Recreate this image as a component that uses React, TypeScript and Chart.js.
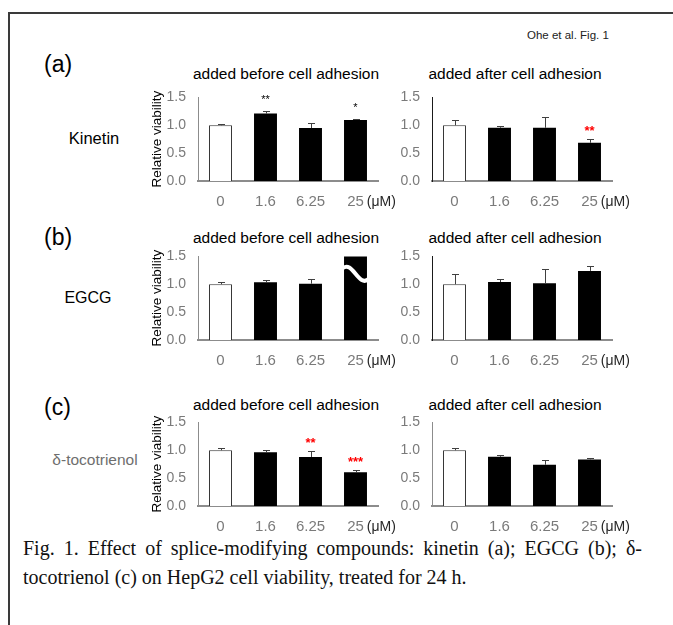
import React, { useEffect, useRef } from 'react';
import { Chart, registerables } from 'chart.js';

Chart.register(...registerables);

const categories = ['0', '1.6', '6.25', '25'];
const yTicks = [0, 0.5, 1.0, 1.5];

const kinetinBefore = [1.0, 1.21, 0.95, 1.095];
const kinetinBeforeErr = [0.03, 0.045, 0.085, 0.025];
const kinetinBeforeSig = ['', '**', '', '*'];

const kinetinAfter = [1.0, 0.955, 0.955, 0.685];
const kinetinAfterErr = [0.09, 0.035, 0.2, 0.06];
const kinetinAfterSig = ['', '', '', '**'];

const egcgBefore = [1.0, 1.035, 1.01, 1.6];
const egcgBeforeErr = [0.035, 0.045, 0.08, 0];
const egcgBeforeSig = ['', '', '', ''];

const egcgAfter = [1.0, 1.04, 1.02, 1.24];
const egcgAfterErr = [0.18, 0.06, 0.255, 0.09];
const egcgAfterSig = ['', '', '', ''];

const tocoBefore = [1.0, 0.966, 0.88, 0.605];
const tocoBeforeErr = [0.04, 0.045, 0.1, 0.04];
const tocoBeforeSig = ['', '', '**', '***'];

const tocoAfter = [1.0, 0.883, 0.74, 0.836];
const tocoAfterErr = [0.035, 0.037, 0.08, 0.017];
const tocoAfterSig = ['', '', '', ''];

const SANS = '"Liberation Sans", Arial, sans-serif';
const SERIF = '"Liberation Serif", "Times New Roman", serif';
const TICK_GRAY = '#7a7a7a';

const CW = 270;
const PAD_TOP = 9.6;
const TOP_OFF = 18; // layout padding + half of the top tick label
const AREA_H = 86;
const Y_W = 58;
const X_H = 30;
const X_PAD = 12;
const CH = TOP_OFF + AREA_H + X_H;

type PanelProps = {
  left: number;
  top: number;
  values: number[];
  errors: number[];
  sig: string[];
  sigColor: string;
  yColor: string;
  yTitle: boolean;
  breakIndex?: number;
  breakValue?: number;
};

function Panel(p: PanelProps) {
  const ref = useRef<HTMLCanvasElement>(null);
  useEffect(() => {
    const annot = {
      id: 'annot',
      afterDatasetsDraw(chart: any) {
        const { ctx, scales } = chart;
        const x = scales.x;
        const y = scales.y;
        ctx.save();
        ctx.strokeStyle = '#404040';
        ctx.lineWidth = 1;
        p.errors.forEach((e, i) => {
          if (!e) return;
          const cx = Math.round(x.getPixelForValue(i)) + 0.5;
          const y0 = y.getPixelForValue(p.values[i]);
          const y1 = Math.round(y.getPixelForValue(p.values[i] + e)) + 0.5;
          ctx.beginPath();
          ctx.moveTo(cx, y0);
          ctx.lineTo(cx, y1);
          ctx.moveTo(cx - 3.5, y1);
          ctx.lineTo(cx + 3.5, y1);
          ctx.stroke();
        });
        if (p.breakIndex !== undefined && p.breakValue !== undefined) {
          const meta = chart.getDatasetMeta(0);
          const bar = meta.data[p.breakIndex];
          const half = bar.width / 2;
          const l = bar.x - half - 2;
          const r = bar.x + half + 2;
          const c = y.getPixelForValue(p.breakValue);
          ctx.strokeStyle = '#ffffff';
          ctx.lineWidth = 4;
          ctx.beginPath();
          ctx.moveTo(l, c - 6);
          ctx.bezierCurveTo(l + (r - l) * 0.4, c - 16, l + (r - l) * 0.6, c + 14, r, c + 4);
          ctx.stroke();
        }
        ctx.textAlign = 'center';
        ctx.textBaseline = 'alphabetic';
        p.sig.forEach((s, i) => {
          if (!s) return;
          const cx = x.getPixelForValue(i);
          const yt = y.getPixelForValue(p.values[i] + p.errors[i]);
          let off = 4;
          if (p.sigColor === '#000000') {
            ctx.font = `11px ${SANS}`;
            off = 8;
          } else {
            ctx.font = `bold 13px ${SANS}`;
          }
          ctx.fillStyle = p.sigColor;
          ctx.fillText(s, cx, yt - off);
        });
        ctx.font = `15px ${SANS}`;
        const w25 = ctx.measureText(categories[3]).width;
        const ux = x.getPixelForValue(3) + w25 / 2 + 3;
        const uy = x.top + X_PAD + 9;
        ctx.textAlign = 'left';
        ctx.textBaseline = 'middle';
        ctx.fillStyle = '#262626';
        ctx.font = `14px ${SANS}`;
        ctx.fillText('(\u03bcM)', ux, uy);
        ctx.restore();
      },
    };
    const chart = new Chart(ref.current!, {
      type: 'bar',
      data: {
        labels: categories,
        datasets: [
          {
            data: p.values,
            backgroundColor: categories.map((_, i) => (i === 0 ? '#ffffff' : '#000000')),
            borderColor: categories.map((_, i) => (i === 0 ? '#333333' : '#000000')),
            borderWidth: categories.map((_, i) => (i === 0 ? 1 : 0)),
            categoryPercentage: 1,
            barPercentage: 0.51,
            clip: 0,
          } as any,
        ],
      },
      options: {
        responsive: false,
        animation: false,
        devicePixelRatio: 1,
        layout: { padding: { top: PAD_TOP, right: 32, left: 0, bottom: 0 } },
        plugins: { legend: { display: false }, tooltip: { enabled: false }, title: { display: false } },
        scales: {
          x: {
            offset: true,
            grid: { display: false, drawTicks: false },
            border: { display: true, color: '#8c8c8c', width: 2 },
            ticks: { color: TICK_GRAY, font: { family: SANS, size: 15 }, padding: X_PAD, maxRotation: 0 },
            afterFit: (s: any) => {
              s.height = X_H;
            },
          },
          y: {
            min: 0,
            max: 1.5,
            afterBuildTicks: (s: any) => {
              s.ticks = yTicks.map((v) => ({ value: v }));
            },
            grid: { display: false, drawTicks: false },
            border: { display: true, color: p.yColor, width: 1 },
            ticks: {
              color: TICK_GRAY,
              font: { family: SANS, size: 14 },
              padding: 12,
              callback: (v: any) => Number(v).toFixed(1),
            },
            title: {
              display: p.yTitle,
              text: 'Relative viability',
              color: '#000000',
              font: { family: SANS, size: 13.5 },
              padding: { top: 9, bottom: 0 },
            },
            afterFit: (s: any) => {
              s.width = Y_W;
            },
          },
        },
      },
      plugins: [annot],
    });
    return () => chart.destroy();
  }, []);
  return (
    <canvas
      ref={ref}
      width={CW}
      height={CH}
      style={{ position: 'absolute', left: p.left, top: p.top, width: CW, height: CH }}
    />
  );
}

function Txt({ x, y, children, style }: any) {
  return (
    <div
      style={{
        position: 'absolute',
        left: x,
        top: y,
        transform: 'translateY(-50%)',
        whiteSpace: 'nowrap',
        lineHeight: 1,
        fontFamily: SANS,
        ...style,
      }}
    >
      {children}
    </div>
  );
}

function CTxt({ x, y, children, style }: any) {
  return (
    <div
      style={{
        position: 'absolute',
        left: x,
        top: y,
        transform: 'translate(-50%, -50%)',
        whiteSpace: 'nowrap',
        lineHeight: 1,
        fontFamily: SANS,
        ...style,
      }}
    >
      {children}
    </div>
  );
}

export default function App() {
  const leftX = 198 - Y_W;
  const rightX = 432 - Y_W;
  const rows = [
    { label: '(a)', labelY: 64, name: 'Kinetin', nameX: 94, nameY: 138, nameSize: 16.5, nameColor: '#000', titleY: 74 },
    { label: '(b)', labelY: 237, name: 'EGCG', nameX: 88, nameY: 298, nameSize: 16, nameColor: '#000', titleY: 238 },
    { label: '(c)', labelY: 407, name: '\u03b4-tocotrienol', nameX: 95, nameY: 460, nameSize: 15.5, nameColor: '#6e6e6e', titleY: 405 },
  ];
  return (
    <div style={{ position: 'absolute', left: 0, top: 0, width: 673, height: 625, overflow: 'hidden', background: '#fff' }}>
      <div
        style={{
          position: 'absolute',
          left: 8,
          top: 12,
          width: 700,
          height: 700,
          borderLeft: '2px solid #3a3a3a',
          borderTop: '2px solid #3a3a3a',
        }}
      />
      <Txt x={527} y={36} style={{ fontSize: 11.5, color: '#222' }}>
        Ohe et al. Fig. 1
      </Txt>
      {rows.map((r) => (
        <React.Fragment key={r.label}>
          <Txt x={44} y={r.labelY} style={{ fontSize: 23 }}>
            {r.label}
          </Txt>
          <CTxt x={r.nameX} y={r.nameY} style={{ fontSize: r.nameSize, color: r.nameColor }}>
            {r.name}
          </CTxt>
          <CTxt x={286} y={r.titleY} style={{ fontSize: 15.5 }}>
            added before cell adhesion
          </CTxt>
          <CTxt x={515} y={r.titleY} style={{ fontSize: 15.5 }}>
            added after cell adhesion
          </CTxt>
        </React.Fragment>
      ))}
      <Panel left={leftX} top={95 - TOP_OFF} values={kinetinBefore} errors={kinetinBeforeErr} sig={kinetinBeforeSig} sigColor="#000000" yColor="#8c8c8c" yTitle={true} />
      <Panel left={rightX} top={95 - TOP_OFF} values={kinetinAfter} errors={kinetinAfterErr} sig={kinetinAfterSig} sigColor="#ff0000" yColor="#1a1a1a" yTitle={false} />
      <Panel left={leftX} top={254 - TOP_OFF} values={egcgBefore} errors={egcgBeforeErr} sig={egcgBeforeSig} sigColor="#000000" yColor="#8c8c8c" yTitle={true} breakIndex={3} breakValue={1.17} />
      <Panel left={rightX} top={254 - TOP_OFF} values={egcgAfter} errors={egcgAfterErr} sig={egcgAfterSig} sigColor="#000000" yColor="#1a1a1a" yTitle={false} />
      <Panel left={leftX} top={420 - TOP_OFF} values={tocoBefore} errors={tocoBeforeErr} sig={tocoBeforeSig} sigColor="#ff0000" yColor="#8c8c8c" yTitle={true} />
      <Panel left={rightX} top={420 - TOP_OFF} values={tocoAfter} errors={tocoAfterErr} sig={tocoAfterSig} sigColor="#000000" yColor="#8c8c8c" yTitle={false} />
      <div
        style={{
          position: 'absolute',
          left: 23,
          top: 548,
          width: 619,
          transform: 'translateY(-50%)',
          whiteSpace: 'nowrap',
          lineHeight: 1,
          fontFamily: SERIF,
          fontSize: 20,
          color: '#111',
          textAlign: 'justify',
          textAlignLast: 'justify',
        } as any}
      >
        Fig. 1. Effect of splice-modifying compounds: kinetin (a); EGCG (b); {'\u03b4'}-
      </div>
      <Txt x={23} y={577} style={{ fontFamily: SERIF, fontSize: 20, color: '#111' }}>
        tocotrienol (c) on HepG2 cell viability, treated for 24 h.
      </Txt>
    </div>
  );
}
